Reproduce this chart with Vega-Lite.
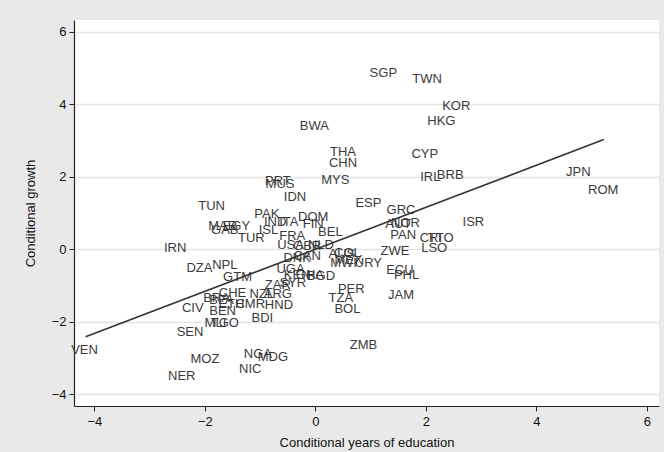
{
  "$schema": "https://vega.github.io/schema/vega-lite/v6.json",
  "width": 585,
  "height": 386,
  "autosize": {"type": "none"},
  "padding": {"left": 74, "top": 20, "right": 5, "bottom": 46},
  "background": "#e9e9e9",
  "config": {
    "font": "Liberation Sans",
    "view": {"fill": "white", "stroke": null},
    "axis": {
      "domainColor": "#222",
      "domainWidth": 1.2,
      "tickColor": "#222",
      "tickSize": 5,
      "labelColor": "#111",
      "labelFontSize": 13,
      "titleFontSize": 13,
      "titleFontWeight": "normal",
      "titleColor": "#111",
      "gridColor": "#e4e4e4",
      "gridWidth": 1.5
    }
  },
  "datasets": {
    "pts": [
      {"c": "SGP", "x": 1.23, "y": 4.85},
      {"c": "TWN", "x": 2.02, "y": 4.68},
      {"c": "KOR", "x": 2.55, "y": 3.96},
      {"c": "HKG", "x": 2.28, "y": 3.52},
      {"c": "BWA", "x": -0.02, "y": 3.39},
      {"c": "THA", "x": 0.5, "y": 2.69},
      {"c": "CHN", "x": 0.5, "y": 2.38},
      {"c": "CYP", "x": 1.98, "y": 2.61},
      {"c": "IRL", "x": 2.08, "y": 1.98},
      {"c": "BRB", "x": 2.44, "y": 2.03},
      {"c": "JPN", "x": 4.76, "y": 2.12},
      {"c": "ROM", "x": 5.21, "y": 1.62},
      {"c": "PRT", "x": -0.68, "y": 1.87},
      {"c": "MUS", "x": -0.64, "y": 1.8},
      {"c": "MYS", "x": 0.36, "y": 1.9},
      {"c": "IDN", "x": -0.37, "y": 1.43},
      {"c": "ESP", "x": 0.96, "y": 1.28},
      {"c": "TUN", "x": -1.88, "y": 1.18},
      {"c": "GRC", "x": 1.55, "y": 1.07},
      {"c": "AUT", "x": 1.5, "y": 0.7},
      {"c": "NOR", "x": 1.63, "y": 0.72},
      {"c": "ISR", "x": 2.86, "y": 0.75},
      {"c": "PAN", "x": 1.59, "y": 0.38},
      {"c": "CRI", "x": 2.09, "y": 0.3},
      {"c": "TTO", "x": 2.27, "y": 0.3},
      {"c": "LSO", "x": 2.15, "y": 0.04},
      {"c": "ZWE", "x": 1.44, "y": -0.05},
      {"c": "ECU", "x": 1.53, "y": -0.59},
      {"c": "PHL", "x": 1.65, "y": -0.71},
      {"c": "JAM", "x": 1.55, "y": -1.27},
      {"c": "PER", "x": 0.65, "y": -1.1},
      {"c": "TZA", "x": 0.46, "y": -1.35},
      {"c": "BOL", "x": 0.58, "y": -1.64},
      {"c": "ZMB", "x": 0.87, "y": -2.66},
      {"c": "NIC", "x": -1.18, "y": -3.3},
      {"c": "NGA", "x": -1.04, "y": -2.89},
      {"c": "MDG", "x": -0.77, "y": -2.97},
      {"c": "MOZ", "x": -2.0, "y": -3.04},
      {"c": "NER", "x": -2.42, "y": -3.5},
      {"c": "VEN", "x": -4.18, "y": -2.78},
      {"c": "SEN", "x": -2.27, "y": -2.3},
      {"c": "MLI", "x": -1.81, "y": -2.03},
      {"c": "TGO", "x": -1.64, "y": -2.03},
      {"c": "CIV", "x": -2.22, "y": -1.63},
      {"c": "BEN", "x": -1.68, "y": -1.7},
      {"c": "BDI", "x": -0.96, "y": -1.91},
      {"c": "BRA", "x": -1.79, "y": -1.35},
      {"c": "BFA", "x": -1.7, "y": -1.4},
      {"c": "CHE", "x": -1.5, "y": -1.2},
      {"c": "ETH", "x": -1.52, "y": -1.51},
      {"c": "CMR", "x": -1.18, "y": -1.51},
      {"c": "HND", "x": -0.66, "y": -1.53},
      {"c": "NZL", "x": -0.97, "y": -1.23},
      {"c": "ARG", "x": -0.68, "y": -1.23},
      {"c": "ZAR", "x": -0.68, "y": -1.0},
      {"c": "SYR", "x": -0.41, "y": -0.95},
      {"c": "GTM", "x": -1.41, "y": -0.76},
      {"c": "NPL", "x": -1.64, "y": -0.45},
      {"c": "DZA", "x": -2.1, "y": -0.53},
      {"c": "IRN", "x": -2.54, "y": 0.03},
      {"c": "MAR", "x": -1.68, "y": 0.63},
      {"c": "EGY", "x": -1.43, "y": 0.63},
      {"c": "GAB", "x": -1.64, "y": 0.53},
      {"c": "TUR", "x": -1.16, "y": 0.3},
      {"c": "ISL", "x": -0.85, "y": 0.53},
      {"c": "PAK", "x": -0.88, "y": 0.97},
      {"c": "IND", "x": -0.73, "y": 0.76},
      {"c": "ITA", "x": -0.48, "y": 0.74},
      {"c": "DOM", "x": -0.04, "y": 0.88},
      {"c": "FIN", "x": -0.04, "y": 0.68},
      {"c": "BEL", "x": 0.27, "y": 0.47},
      {"c": "FRA", "x": -0.42, "y": 0.37},
      {"c": "NLD", "x": 0.1, "y": 0.1},
      {"c": "USA", "x": -0.45, "y": 0.1},
      {"c": "GBR", "x": -0.15, "y": 0.08},
      {"c": "DNK", "x": -0.33, "y": -0.26},
      {"c": "CAN", "x": -0.15, "y": -0.2},
      {"c": "COL", "x": 0.58, "y": -0.12},
      {"c": "AUS", "x": 0.48, "y": -0.14},
      {"c": "MWI", "x": 0.51, "y": -0.39},
      {"c": "MEX", "x": 0.6, "y": -0.3},
      {"c": "URY", "x": 0.96, "y": -0.39},
      {"c": "UGA", "x": -0.45, "y": -0.55},
      {"c": "KEN", "x": -0.33, "y": -0.72},
      {"c": "GHA", "x": -0.1, "y": -0.72},
      {"c": "BGD", "x": 0.1, "y": -0.75}
    ],
    "fit": [
      {"x": -4.16, "y": -2.42},
      {"x": 5.22, "y": 3.02}
    ]
  },
  "layer": [
    {
      "data": {"name": "pts"},
      "mark": {"type": "text", "fontSize": 13, "color": "#3a3a3a", "align": "center", "baseline": "middle"},
      "encoding": {
        "x": {
          "field": "x", "type": "quantitative",
          "scale": {"domain": [-4.37, 6.22], "nice": false, "zero": false},
          "axis": {"values": [-4, -2, 0, 2, 4, 6], "format": "d", "grid": false, "title": "Conditional years of education", "titlePadding": 8, "labelPadding": 4}
        },
        "y": {
          "field": "y", "type": "quantitative",
          "scale": {"domain": [-4.33, 6.32], "nice": false, "zero": false},
          "axis": {"values": [-4, -2, 0, 2, 4, 6], "format": "d", "grid": true, "title": "Conditional growth", "titlePadding": 14, "labelPadding": 3}
        },
        "text": {"field": "c"}
      }
    },
    {
      "data": {"name": "fit"},
      "mark": {"type": "line", "color": "#333", "strokeWidth": 1.6},
      "encoding": {
        "x": {"field": "x", "type": "quantitative"},
        "y": {"field": "y", "type": "quantitative"}
      }
    }
  ]
}
